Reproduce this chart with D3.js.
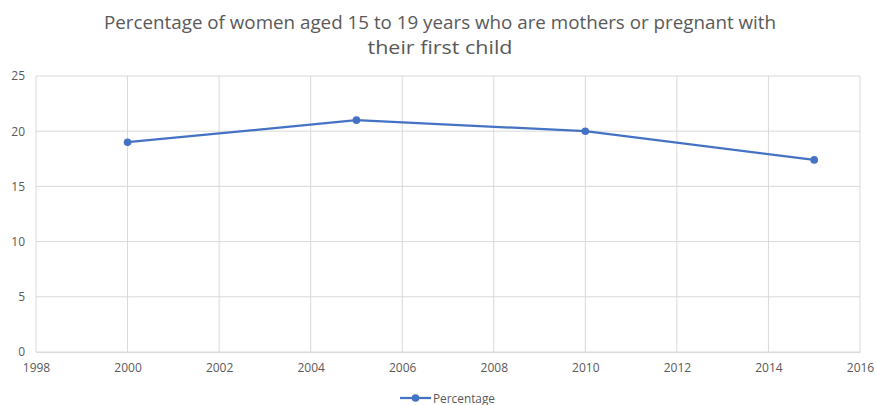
<!DOCTYPE html>
<html><head><meta charset="utf-8">
<script src="https://cdn.jsdelivr.net/npm/d3@7"></script>
<style>body{margin:0;background:#fff}svg{display:block}text{font-family:"Open Sans",sans-serif}</style>
</head><body><svg id="c" width="876" height="405"></svg>
<script>
const years = [2000, 2005, 2010, 2015];
const percentage = [19.0, 21.0, 20.0, 17.4];
const xTicks = [1998, 2000, 2002, 2004, 2006, 2008, 2010, 2012, 2014, 2016];
const yTicks = [0, 5, 10, 15, 20, 25];
const titleLines = ["Percentage of women aged 15 to 19 years who are mothers or pregnant with", "their first child"];
const seriesName = "Percentage";

const svg = d3.select("#c");
const m = {l: 36, r: 16, t: 76, b: 53};
const W = 876, H = 405;
const x = d3.scaleLinear().domain([1998, 2016]).range([m.l, W - m.r]);
const y = d3.scaleLinear().domain([0, 25]).range([H - m.b, m.t]);
const grey = "#595959", grid = "#d9d9d9", blue = "#4472C4";
const ff = '"Open Sans",sans-serif';

// title
svg.selectAll("text.title").data(titleLines).join("text")
  .attr("class", "title")
  .attr("x", 440).attr("y", (d, i) => 29 + i * 25)
  .attr("text-anchor", "middle").attr("fill", grey)
  .attr("font-size", 19)
  .attr("textLength", (d, i) => i === 0 ? 672 : 145)
  .attr("lengthAdjust", "spacingAndGlyphs")
  .text(d => d);

// gridlines
svg.append("g").selectAll("line").data(yTicks).join("line")
  .attr("x1", x(1998)).attr("x2", x(2016))
  .attr("y1", d => y(d)).attr("y2", d => y(d))
  .attr("stroke", grid).attr("stroke-width", 1);
svg.append("g").selectAll("line").data(xTicks).join("line")
  .attr("x1", d => x(d)).attr("x2", d => x(d))
  .attr("y1", y(0)).attr("y2", y(25))
  .attr("stroke", grid).attr("stroke-width", 1);

// axes labels
const yAxis = d3.axisLeft(y).tickValues(yTicks).tickSize(0).tickPadding(11);
svg.append("g").attr("transform", `translate(${m.l},0)`).call(yAxis)
  .call(g => g.select(".domain").remove())
  .call(g => g.selectAll("text").attr("fill", grey).attr("font-size", 12).attr("font-family", ff));
const xAxis = d3.axisBottom(x).tickValues(xTicks).tickFormat(d3.format("d")).tickSize(0).tickPadding(11);
svg.append("g").attr("transform", `translate(0,${y(0)})`).call(xAxis)
  .call(g => g.select(".domain").attr("stroke", grid))
  .call(g => g.selectAll("text").attr("fill", grey).attr("font-size", 12).attr("font-family", ff));

// line
const data = years.map((d, i) => ({x: d, y: percentage[i]}));
svg.append("path").datum(data)
  .attr("fill", "none").attr("stroke", blue).attr("stroke-width", 2.25)
  .attr("stroke-linejoin", "round").attr("stroke-linecap", "round")
  .attr("d", d3.line().x(d => x(d.x)).y(d => y(d.y)));
svg.append("g").selectAll("circle").data(data).join("circle")
  .attr("cx", d => x(d.x)).attr("cy", d => y(d.y)).attr("r", 3.8).attr("fill", blue);

// legend
const lg = svg.append("g").attr("transform", "translate(400,398)");
lg.append("line").attr("x1", 0).attr("x2", 31).attr("y1", 0).attr("y2", 0).attr("stroke", blue).attr("stroke-width", 2.25);
lg.append("circle").attr("cx", 15.5).attr("cy", 0).attr("r", 3.8).attr("fill", blue);
lg.append("text").attr("x", 33).attr("y", 4.5).attr("fill", grey).attr("font-size", 12)
  .attr("textLength", 62).attr("lengthAdjust", "spacingAndGlyphs").text(seriesName);
</script></body></html>
